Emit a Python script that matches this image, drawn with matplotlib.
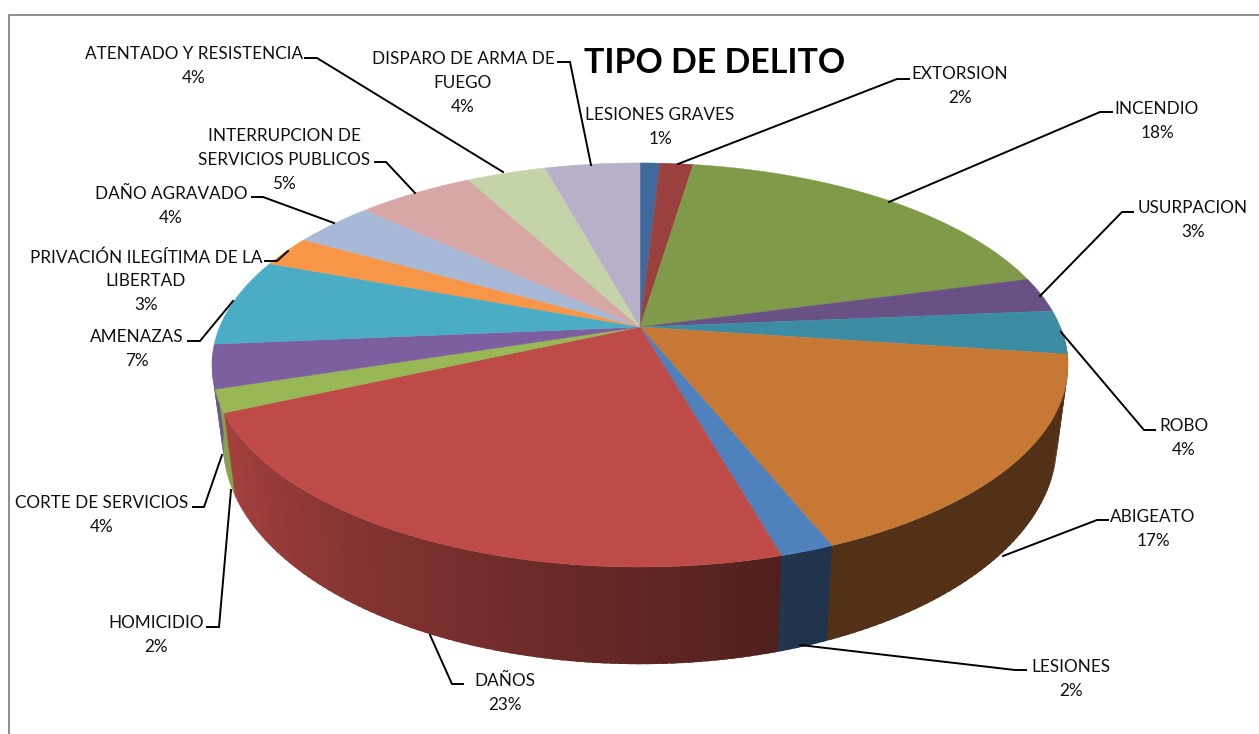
import numpy as np
import matplotlib
matplotlib.use("Agg")
import matplotlib.pyplot as plt

plt.rcParams['font.family'] = ['Lato', 'DejaVu Sans']

# slices, clockwise from 12 o'clock
names = ["LESIONES GRAVES", "EXTORSION", "INCENDIO", "USURPACION", "ROBO", "ABIGEATO",
         "LESIONES", "DAÑOS", "HOMICIDIO", "CORTE DE SERVICIOS", "AMENAZAS",
         "PRIVACIÓN ILEGÍTIMA DE LA\nLIBERTAD", "DAÑO AGRAVADO",
         "INTERRUPCION DE\nSERVICIOS PUBLICOS", "ATENTADO Y RESISTENCIA",
         "DISPARO DE ARMA DE\nFUEGO"]
values = [0.9, 1.5, 18.49, 2.8, 3.5, 16.7, 1.7, 22.8, 1.8, 3.5, 7.0, 2.5, 3.7, 5.3, 3.6, 4.3]
shown = [1, 2, 18, 3, 4, 17, 2, 23, 2, 4, 7, 3, 4, 5, 4, 4]
colors = ["#3E6A9C", "#9A403E", "#7F9A48", "#695185", "#3C8DA3", "#C77835",
          "#4F81BD", "#BE4B48", "#98B855", "#7D5FA0", "#4AACC5", "#F79646",
          "#A8B9D7", "#D7A7A6", "#C5D4A8", "#B8AFC9"]
side_colors = ["#4F81BD", "#BE4B48", "#7F9A48", "#695185", "#3C8DA3", "#C77835",
               "#4F81BD", "#BE4B48", "#98B855", "#7D5FA0", "#4AACC5", "#F79646",
               "#A8B9D7", "#D7A7A6", "#C5D4A8", "#B8AFC9"]

# where the labels sit (centre x, centre y)
label_pos = [(660, 127), (960, 86), (1157, 121), (1193, 220), (1184, 438), (1153, 529),
             (1071, 679), (505, 693), (156, 635), (102, 515), (137, 349), (146, 281),
             (171, 206), (284, 160), (194, 66), (463, 83)]
# leader lines
leaders = [None,
           [(909, 79), (897, 79), (678, 164)],
           [(1112, 112), (1100, 112), (889, 202)],
           [(1133, 212), (1122, 212), (1040, 296)],
           [(1155, 430), (1144, 430), (1061, 332)],
           [(1108, 520), (1097, 520), (1003, 556)],
           [(1026, 670), (1015, 670), (800, 645)],
           [(463, 684), (452, 684), (430, 635)],
           [(207, 627), (219, 627), (231, 490)],
           [(193, 507), (204, 507), (222, 455)],
           [(188, 341), (200, 341), (233, 301)],
           [(265, 261), (277, 261), (288, 251)],
           [(252, 197), (263, 197), (334, 223)],
           [(375, 162), (386, 162), (415, 193)],
           [(305, 58), (317, 58), (503, 172)],
           [(558, 62), (570, 62), (591, 165)]]

# apex of the pie and perspective of the tilted disc
cx, cy = 640, 327
R, H, k = 420.4, 194.9, 0.188


def top_xy(ang):
    u, v = np.sin(ang), np.cos(ang)
    s = 1 + k * v
    return cx + R * u / s, cy - H * v / s


def bottom_xy(x, y):
    return cx + 0.974 * (x - cx), y + 75 + 0.0923 * (y - cy)


def shade(deg):
    # side walls get lighter toward the left
    return np.clip(0.41 + (deg - 162) * 0.44 / 80, 0.41, 0.88)


edges = np.cumsum([0] + values) / sum(values) * 2 * np.pi

fig = plt.figure(figsize=(12.59, 7.34), dpi=100)
ax = fig.add_axes([0, 0, 1, 1])
ax.set_xlim(0, 1259)
ax.set_ylim(734, 0)
ax.axis('off')

# chart frame
ax.plot([9, 9, 1259], [734, 15, 15], color='#8c8c8c', lw=1.4, zorder=1)

# side wall, only the part facing us
for i in range(len(values)):
    a0, a1 = edges[i], edges[i + 1]
    lo, hi = max(a0, np.radians(90)), min(a1, np.radians(262))
    if hi <= lo:
        continue
    steps = np.linspace(lo, hi, max(2, int(np.degrees(hi - lo)) + 2))
    base = np.array(matplotlib.colors.to_rgb(side_colors[i]))
    for a, b in zip(steps[:-1], steps[1:]):
        # overlap into the next strip so no seams show between them
        t = np.linspace(a, min(b + 0.012, np.radians(262)), 4)
        xt, yt = top_xy(t)
        xb, yb = bottom_xy(xt, yt)
        c = base * shade(np.degrees((a + b) / 2))
        ax.fill(np.r_[xt, xb[::-1]], np.r_[yt, yb[::-1]], color=c, lw=0, zorder=2)

# top face
for i in range(len(values)):
    t = np.linspace(edges[i], edges[i + 1], 80)
    xt, yt = top_xy(t)
    ax.fill(np.r_[cx, xt], np.r_[cy, yt], color=colors[i], lw=0.3, zorder=3)

for line in leaders:
    if line is None:
        continue
    xs, ys = zip(*line)
    ax.plot(xs, ys, color='black', lw=1.4, zorder=4, solid_joinstyle='miter')

for name, pct, (x, y) in zip(names, shown, label_pos):
    ax.text(x, y, f"{name}\n{pct}%", ha='center', va='center', fontsize=12.3,
            linespacing=1.58, color='#111111', zorder=5)

ax.text(715, 63, "TIPO DE DELITO", ha='center', va='center', fontsize=24.4,
        fontweight='bold', color='black', zorder=5)

fig.savefig("out.png", dpi=100)
